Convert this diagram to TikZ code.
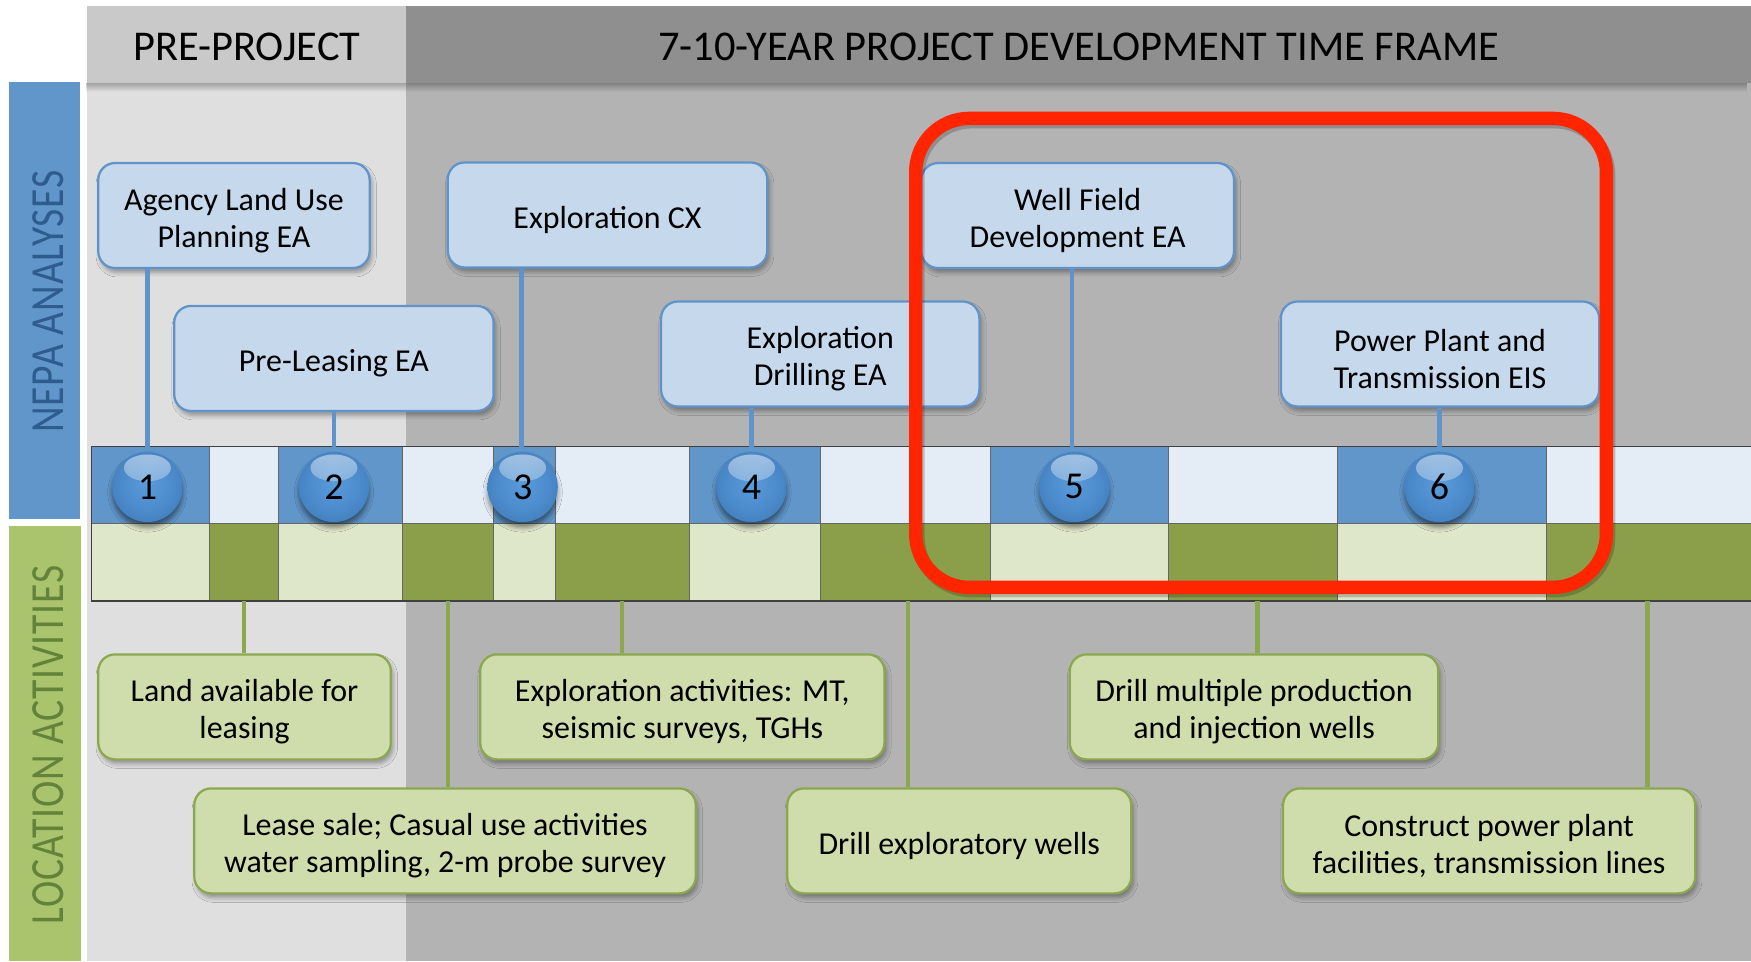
\documentclass[tikz,border=0pt]{standalone}
\usepackage{fontspec}
\setmainfont{Carlito}
\newfontfamily\sidefont[LetterSpace=2]{Carlito}
\usetikzlibrary{shadows.blur,fadings}

% palette
\definecolor{hdrlight}{HTML}{C9C9C9}
\definecolor{hdrdark}{HTML}{8F8F8F}
\definecolor{bodylight}{HTML}{DFDFDF}
\definecolor{bodydark}{HTML}{B3B3B3}
\definecolor{nepablue}{HTML}{6096C9}
\definecolor{nepatext}{HTML}{2F5C8E}
\definecolor{locgreen}{HTML}{A9C46C}
\definecolor{loctext}{HTML}{64833A}
\definecolor{cellblue}{HTML}{6096C9}
\definecolor{celllight}{HTML}{E4ECF6}
\definecolor{greenlight}{HTML}{DFE7CB}
\definecolor{greendark}{HTML}{8B9F4B}
\definecolor{boxbluefill}{HTML}{C5D8EC}
\definecolor{boxblueline}{HTML}{5F93C9}
\definecolor{boxgreenfill}{HTML}{CFDDAD}
\definecolor{boxgreenline}{HTML}{8BA84F}
\definecolor{hilitered}{HTML}{FF2500}
\definecolor{ballA}{HTML}{5A9BDA}
\definecolor{ballB}{HTML}{4C8BCC}
\definecolor{ballC}{HTML}{3B74B1}
\definecolor{ballD}{HTML}{244F86}

\pgfdeclareradialshading{ballshade}{\pgfpoint{0bp}{2bp}}{%
  color(0bp)=(ballA); color(18bp)=(ballB); color(38bp)=(ballC);
  color(50bp)=(ballD); color(100bp)=(ballD)}

\newcommand\boxfont{\fontsize{28.6}{33}\selectfont}

\tikzset{
  hdr/.style={inner sep=0pt, outer sep=0pt, minimum height=69pt,
    text height=30pt, text depth=0pt,
    font=\fontsize{38}{40}\selectfont},
  sidebar/.style={inner sep=0pt, outer sep=0pt, minimum width=64pt},
  sidelabel/.style={rotate=90, yscale=1.2, inner sep=0pt,
    font=\sidefont\fontsize{35.5}{36}\selectfont},
  cell/.style={draw=black!60, line width=0.8pt, inner sep=0pt, outer sep=0pt,
    minimum height=69pt},
  frame/.style={draw=black!75, line width=1.4pt, inner sep=0pt, outer sep=0pt},
  ball/.style={circle, minimum size=63pt, inner sep=0pt, shade, shading=ballshade,
    font=\fontsize{34}{34}\selectfont,
    blur shadow={shadow xshift=0pt, shadow yshift=-5pt, shadow opacity=45,
      shadow blur radius=4pt},
    path picture={\fill[white, path fading=south, fill opacity=0.5]
      ([yshift=17pt]path picture bounding box.center) ellipse (21pt and 12pt);}},
  tbox/.style={rounded corners=15pt, line width=2pt,
    inner sep=0pt, minimum height=94pt,
    blur shadow={shadow xshift=2pt, shadow yshift=-4pt, shadow opacity=35,
      shadow blur radius=4pt},
    label={[align=center, font=\boxfont, inner sep=0pt, yshift=-4.5pt]center:{#1}}},
  nepabox/.style={tbox={#1}, draw=boxblueline, fill=boxbluefill},
  locbox/.style={tbox={#1}, draw=boxgreenline, fill=boxgreenfill},
  bconn/.style={draw=boxblueline, line width=4pt},
  gconn/.style={draw=boxgreenline, line width=4pt},
  hilite/.style={draw=hilitered, line width=12pt, rounded corners=48pt},
}

\begin{document}
\begin{tikzpicture}[x=1pt, y=-1pt]
\useasboundingbox (0,0) rectangle (1568,861);
\fill[white] (0,0) rectangle (1568,861);

% page body: pre-project and project periods
\fill[bodylight] (78,74) rectangle (364,861);
\fill[bodydark] (364,74) rectangle (1568,861);

% period headers
\node[hdr, fill=hdrlight, minimum width=286pt] (hpre) at (221,39.5) {PRE-PROJECT};
\node[hdr, fill=hdrdark, minimum width=1204pt] (hproj) at (966,39.5)
  {7-10-YEAR PROJECT DEVELOPMENT TIME FRAME};
\fill[black, fill opacity=0.28, path fading=south] (78,74) rectangle (1568,82);

% row bars on the left
\node[sidebar, fill=nepablue, minimum height=392pt] (nepabar) at (40,269) {};
\node[sidebar, fill=locgreen, minimum height=390pt] (locbar) at (40.5,666) {};
\node[sidelabel, text=nepatext] (nepalbl) at (43,270) {NEPA ANALYSES};
\node[sidelabel, text=loctext] (loclbl) at (43,667) {LOCATION ACTIVITIES};

% timeline cells
\foreach \i/\xa/\xb in {1/82/188,2/188/249,3/249/360,4/360/442,5/442/497,6/497/617,
                        7/617/735,8/735/887,9/887/1046,10/1046/1198,11/1198/1385,12/1385/1580}{
  \pgfmathsetmacro\w{\xb-\xa}
  \pgfmathsetmacro\cx{(\xa+\xb)/2}
  \ifodd\i \def\topc{cellblue}\def\botc{greenlight}
  \else \def\topc{celllight}\def\botc{greendark}\fi
  \node[cell, fill=\topc, minimum width=\w pt] (t\i) at (\cx,434.5) {};
  \node[cell, fill=\botc, minimum width=\w pt] (g\i) at (\cx,503.5) {};
}
\node[frame, minimum width=1498pt, minimum height=138pt] (tl) at (831,469) {};

% milestone balls
\node[ball] (c1) at (132,436) {1};
\node[ball] (c2) at (299,436) {2};
\node[ball] (c3) at (468,436) {3};
\node[ball] (c4) at (673,436) {4};
\node[ball] (c5) at (962,436) {5};
\node[ball] (c6) at (1289,436) {6};

% NEPA analyses
\node[nepabox={Agency Land Use\\Planning EA}, minimum width=243pt] (a1) at (209.5,193) {};
\node[nepabox={Pre-Leasing EA}, minimum width=286pt] (a2) at (299,321) {};
\node[nepabox={Exploration CX}, minimum width=286pt] (a3) at (544,192.5) {};
\node[nepabox={Exploration\\Drilling EA}, minimum width=285pt] (a4) at (734.5,317) {};
\node[nepabox={Well Field\\Development EA}, minimum width=280pt] (a5) at (965,193) {};
\node[nepabox={Power Plant and\\Transmission EIS}, minimum width=285pt] (a6) at (1289.5,317) {};

% location activities
\node[locbox={Land available for\\leasing}, minimum width=262pt] (l1) at (219,633) {};
\node[locbox={Lease sale; Casual use activities\\water sampling, 2-m probe survey},
  minimum width=449pt] (l2) at (398.5,753) {};
\node[locbox={Exploration activities: MT,\\seismic surveys, TGHs},
  minimum width=362pt] (l3) at (611,633) {};
\node[locbox={Drill exploratory wells}, minimum width=308pt] (l4) at (859,753) {};
\node[locbox={Drill multiple production\\and injection wells},
  minimum width=330pt] (l5) at (1123,633) {};
\node[locbox={Construct power plant\\facilities, transmission lines},
  minimum width=369pt] (l6) at (1333.5,753) {};

% connectors from analyses to milestones
\draw[bconn] (c1 |- a1.south) -- (c1 |- tl.north);
\draw[bconn] (c2 |- a2.south) -- (c2 |- tl.north);
\draw[bconn] ([xshift=-1pt]c3 |- a3.south) -- ([xshift=-1pt]c3 |- tl.north);
\draw[bconn] (c4 |- a4.south) -- (c4 |- tl.north);
\draw[bconn] ([xshift=-2pt]c5 |- a5.south) -- ([xshift=-2pt]c5 |- tl.north);
\draw[bconn] (c6 |- a6.south) -- (c6 |- tl.north);

% connectors from timeline to activities
\draw[gconn] (g2.south) -- (g2.south |- l1.north);
\draw[gconn] (g4.south) -- (g4.south |- l2.north);
\draw[gconn] (g6.south) -- (g6.south |- l3.north);
\draw[gconn] ([xshift=2pt]g8.south) -- ([xshift=2pt]g8.south |- l4.north);
\draw[gconn] ([xshift=4pt]g10.south) -- ([xshift=4pt]g10.south |- l5.north);
\draw[gconn] ([xshift=-7pt]g12.south) -- ([xshift=-7pt]g12.south |- l6.north);

% highlight around the development phase
\draw[hilite, draw=black, draw opacity=0.2, transform canvas={shift={(2pt,-3pt)}}]
  (820,106) rectangle (1438.5,526);
\draw[hilite] (820,106) rectangle (1438.5,526);
\end{tikzpicture}
\end{document}
